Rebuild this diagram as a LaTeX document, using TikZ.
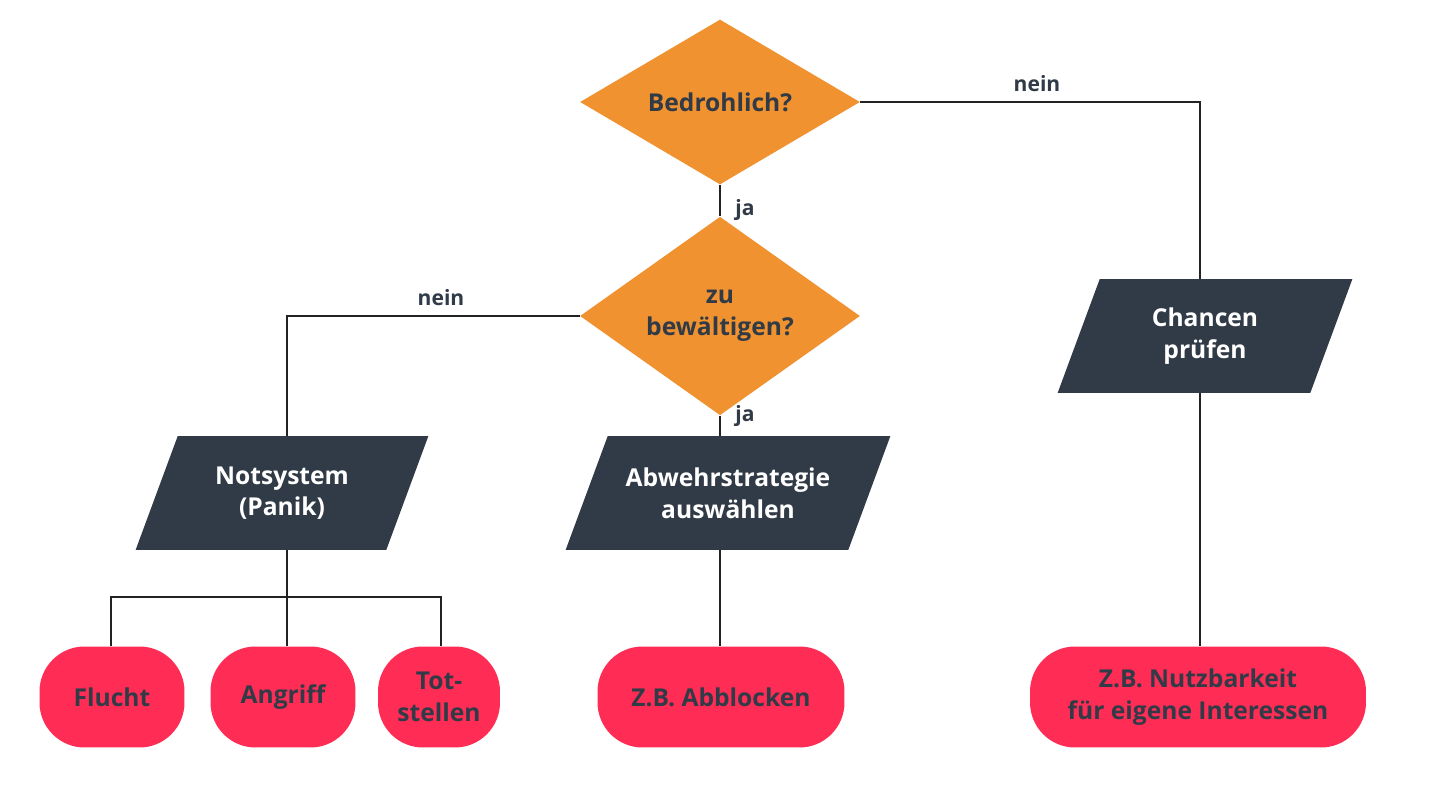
\documentclass[tikz,border=0pt]{standalone}
\usepackage{fontspec}
\setmainfont{Open Sans}
\usetikzlibrary{shapes.geometric,calc}
\definecolor{dorange}{HTML}{F0922F}
\definecolor{ddark}{HTML}{313B47}
\definecolor{dred}{HTML}{FF2D55}
\definecolor{dline}{HTML}{222222}
\begin{document}
\begin{tikzpicture}[x=0.02cm,y=-0.02cm,
  txt/.style={font=\bfseries\fontsize{14}{18}\selectfont,align=center},
  dia/.style={diamond,fill=dorange,draw=none,minimum width=5.6cm,minimum height=3.3cm,inner sep=0pt,txt,text=ddark},
  para/.style={rectangle,minimum height=2.26cm,inner sep=0pt,txt,text=white},
  term/.style={rectangle,rounded corners=0.9cm,fill=dred,minimum height=2.02cm,inner sep=0pt,txt,text=ddark,font=\bfseries\fontsize{14}{18}\selectfont},
  con/.style={draw=dline,line width=0.7pt},
  lab/.style={font=\bfseries\fontsize{12}{14}\selectfont,text=ddark}]
\useasboundingbox (0,0) rectangle (1440,810);
\fill[white] (0,0) rectangle (1440,810);
\node[dia] (d1) at (720,102) {Bedrohlich?};
\node[dia] (d2) at (720,316) {zu\\bewältigen?};
\node[para,minimum width=5.04cm] (ch) at (1205,336) {Chancen\\prüfen};
\node[para,minimum width=5.0cm] (ns) at (282,493) {Notsystem\\(Panik)};
\node[para,minimum width=5.64cm] (ab) at (728,493) {Abwehrstrategie\\auswählen};
\begin{scope}[on background layer/.try]
\foreach \n in {ch,ns,ab}{
 \fill[ddark] ($(\n.north west)+(21,0)$) -- ($(\n.north east)+(21,0)$) -- ($(\n.south east)+(-21,0)$) -- ($(\n.south west)+(-21,0)$) -- cycle;
 \node[para] at (\n) {};}
\end{scope}
\node[para,minimum width=5.04cm] at (1205,336) {Chancen\\prüfen};
\node[para,minimum width=5.0cm] at (282,493) {Notsystem\\(Panik)};
\node[para,minimum width=5.64cm] at (728,493) {Abwehrstrategie\\auswählen};
\node[term,minimum width=2.9cm] (fl) at (112,697) {Flucht};
\node[term,minimum width=2.9cm] (an) at (283,697) {Angriff};
\node[term,minimum width=2.44cm] (ts) at (439,697) {Tot-\\stellen};
\node[term,minimum width=4.94cm] (zb) at (721,697) {Z.B. Abblocken};
\node[term,minimum width=6.72cm] (nu) at (1198,697) {Z.B. Nutzbarkeit\\für eigene Interessen};
\coordinate (c1) at (1200,102);
\coordinate (c2) at (287,316);
\coordinate (bus) at (287,597);
\draw[con] (d1.east) -- (c1) -- (ch.north -| c1);
\draw[con] (d1.south) -- (d2.north);
\draw[con] (d2.west) -- (c2) -- (ns.north -| c2);
\draw[con] (d2.south) -- (ab.north -| d2.south);
\draw[con] (ns.south -| bus) -- (bus);
\draw[con] (fl.north -| 111,0) -- (111,597) -- (441,597) -- (ts.north -| 441,0);
\draw[con] (bus) -- (an.north -| bus);
\draw[con] (ab.south -| 720,0) -- (zb.north -| 720,0);
\draw[con] (ch.south -| c1) -- (nu.north -| c1);
\node[lab] (l1) at (1037,84) {nein};
\node[lab] (l2) at (745,210) {ja};
\node[lab] (l3) at (441,298) {nein};
\node[lab] (l4) at (745,416) {ja};
\end{tikzpicture}
\end{document}
